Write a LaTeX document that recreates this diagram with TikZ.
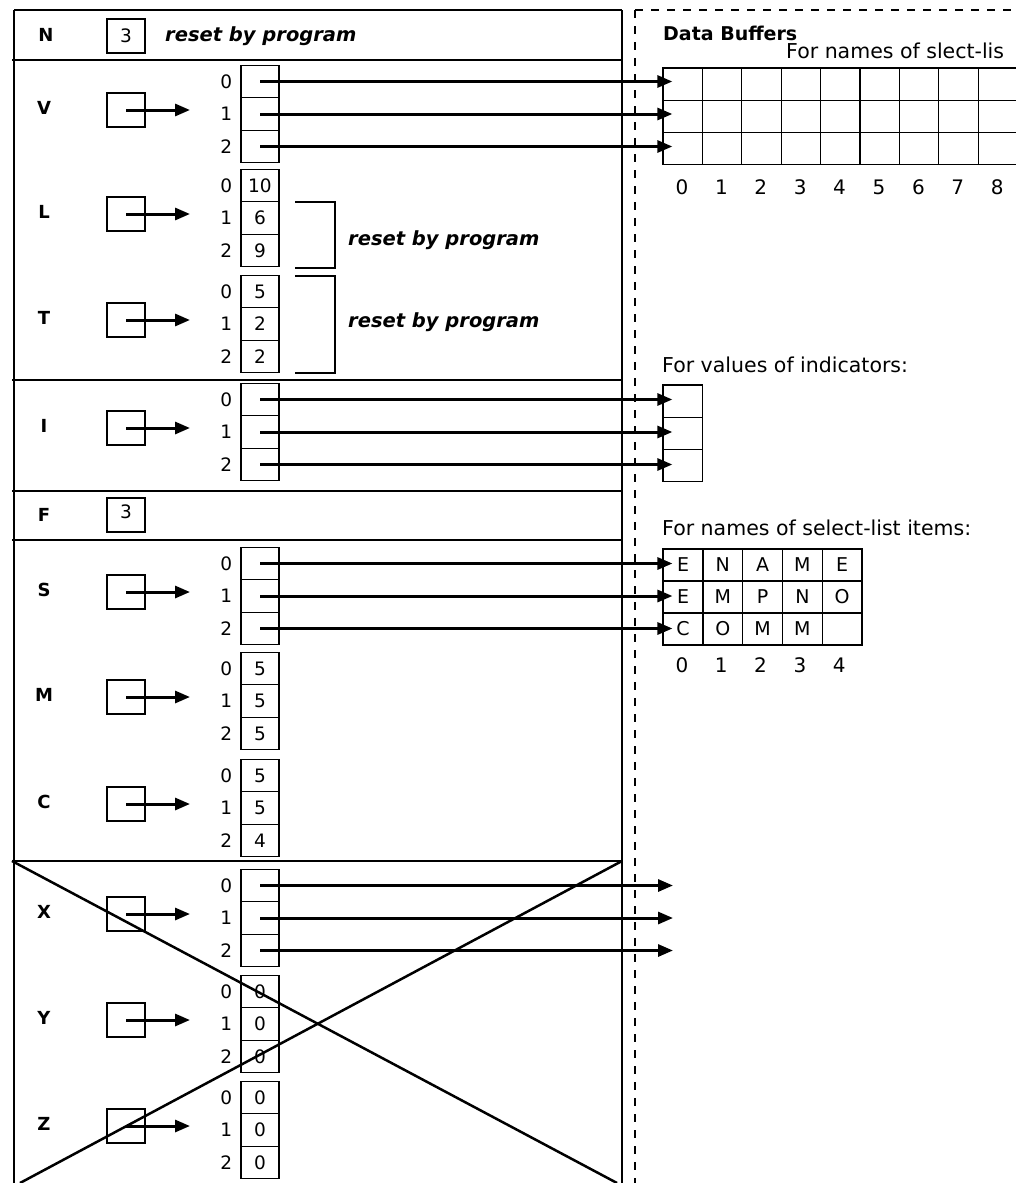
\documentclass[tikz,border=0pt]{standalone}
\usepackage{fontspec}
\setmainfont{DejaVu Sans}
\usetikzlibrary{positioning, arrows.meta}

\begin{document}
\begin{tikzpicture}[x=1pt, y=-1pt, >={Triangle[length=15pt,width=12pt]},
      wall/.style={line width=1.3pt},
      divider/.style={line width=1.4pt, dash pattern=on 8pt off 8pt},
      cell/.style={draw, line width=1.3pt, minimum width=38pt, minimum height=32.5pt, inner sep=0pt,
        font=\fontsize{18.5}{19}\selectfont},
      bufcell/.style={draw, line width=1.3pt, minimum width=39.4pt, minimum height=32.3pt, inner sep=0pt,
        font=\fontsize{19}{19}\selectfont},
      ptr/.style={draw, line width=1.3pt, minimum width=38pt, minimum height=34pt, inner sep=0pt,
        font=\fontsize{18.5}{19}\selectfont},
      varname/.style={font=\bfseries\fontsize{18}{18}\selectfont, inner sep=0pt},
      idx/.style={font=\fontsize{18.5}{19}\selectfont, inner sep=0pt},
      note/.style={font=\bfseries\itshape\fontsize{19.5}{20}\selectfont, anchor=west, inner sep=0pt},
      caption/.style={font=\fontsize{20.5}{21}\selectfont, anchor=west, inner sep=0pt},
      link/.style={->, line width=3pt, shorten >=-10pt},
      hop/.style={->, line width=3pt}]

      \useasboundingbox (0,0) rectangle (1015,1183);

      % descriptor frame
      \draw[wall] (14,10) -- (622,10);
      \draw[wall] (14,10) -- (14,1183);
      \draw[wall] (622,10) -- (622,1183);
      \foreach \y in {60,380,491,540,861}
        \draw[wall] (12,\y) -- (622,\y);

      % buffer side
      \draw[divider] (635,10) -- (635,1183);
      \draw[divider] (635,10) -- (1015,10);

      % N and F
      \node[varname] (lab-N) at (46,35) {N};
      \node[ptr] (box-N) at (126,36) {3};
      \node[note] (note-N) at (165,36) {reset by program};
      \node[varname] (lab-F) at (44,515) {F};
      \node[ptr] (box-F) at (126,515) {\raisebox{6pt}{3}};

      % the arrays
      \foreach \v/\y/\a/\b/\c in {V/114/{}/{}/{}, L/218/10/6/9, T/324/5/2/2, I/432/{}/{}/{},
          S/596/{}/{}/{}, M/701/5/5/5, C/808/5/5/4, X/918/{}/{}/{}, Y/1024/0/0/0, Z/1130/0/0/0} {
        \node[varname] (lab-\v) at (44,\y-6) {\v};
        \node[ptr] (ptr-\v) at (126,\y-4) {};
        \coordinate (tip-\v) at (190,\y-4);
        \draw[hop] (ptr-\v.center) -- (tip-\v);
        \node[cell] (\v-0) at (260,\y-32.5) {\a};
        \node[cell] (\v-1) at (260,\y) {\b};
        \node[cell] (\v-2) at (260,\y+32.5) {\c};
        \foreach \i in {0,1,2}
          \node[idx, left=8pt of \v-\i] (idx-\v-\i) {\i};
      }

      % brackets
      \draw[wall] (295,202) -| (335,268) -- (295,268);
      \draw[wall] (295,276) -| (335,373) -- (295,373);
      \node[note] (note-L) at (348,240) {reset by program};
      \node[note] (note-T) at (348,322) {reset by program};

      % data buffers
      \node[font=\bfseries\fontsize{19}{19}\selectfont, anchor=west, inner sep=0pt] (title) at (663,33) {Data Buffers};
      \node[caption] (cap-sel) at (786,51) {For names of slect-lis};
      \foreach \r in {0,1,2}
        \foreach \c in {0,...,8}
          \node[bufcell] (DB-\r-\c) at (682.7+39.4*\c,84+32.3*\r) {};
      \foreach \c in {0,...,8}
        \node[font=\fontsize{20}{20}\selectfont, inner sep=0pt] (dbi-\c) at (682+39.4*\c,187) {\c};

      \node[caption] (cap-ind) at (662,365) {For values of indicators:};
      \foreach \r in {0,1,2}
        \node[bufcell] (IB-\r) at (682.7,401+32.3*\r) {};

      \node[caption] (cap-name) at (662,528) {For names of select-list items:};
      \foreach \r/\row in {0/{E,N,A,M,E}, 1/{E,M,P,N,O}, 2/{C,O,M,M,{}}}
        \foreach \ch [count=\c from 0] in \row
          \node[bufcell, minimum width=39.8pt, minimum height=32pt] (NB-\r-\c) at (683+39.8*\c,565+32*\r) {\ch};
      \foreach \c in {0,...,4}
        \node[font=\fontsize{20}{20}\selectfont, inner sep=0pt] (nbi-\c) at (682+39.3*\c,665) {\c};

      % pointers into the buffers
      \coordinate (edge) at (663,0);
      \foreach \i in {0,1,2} {
        \draw[link] (V-\i.center) -- (V-\i -| DB-\i-0.west);
        \draw[link] (I-\i.center) -- (I-\i -| IB-\i.west);
        \draw[link] (S-\i.center) -- (S-\i -| NB-\i-0.west);
        \draw[link] (X-\i.center) -- (X-\i -| edge);
      }

      % crossed out
      \draw[line width=2.5pt] (12,861) -- (617,1183);
      \draw[line width=2.5pt] (622,861) -- (20,1183);
    \end{tikzpicture}
\end{document}
